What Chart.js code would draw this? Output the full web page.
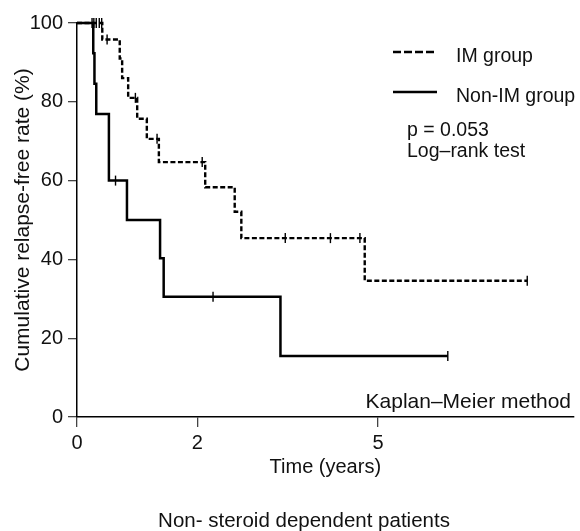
<!DOCTYPE html>
<html lang="en">
<head>
<meta charset="UTF-8">
<title>Relapse-free rate, non-steroid dependent patients</title>
<script src="https://cdn.jsdelivr.net/npm/chart.js"></script>
<style>
  html, body { margin: 0; padding: 0; background: #fff; }
  #wrap { width: 580px; height: 531px; }
</style>
</head>
<body>
<div id="wrap"><canvas id="km" width="580" height="531"></canvas></div>
<script>
// Kaplan-Meier steps: time in years, rate in %
const imTimes = [0, 0.42, 0.71, 0.75, 0.85, 1.00, 1.16, 1.36, 2.13, 2.62, 2.73, 4.78, 7.48];
const imRates = [100, 95.8, 91, 86, 81, 75.7, 70.6, 64.7, 58.3, 52.1, 45.4, 34.6, 34.6];
const imCensorTimes = [0.25, 0.28, 0.32, 0.37, 0.41, 0.50, 0.97, 1.33, 2.08, 3.46, 4.21, 4.70, 7.48];
const imCensorRates = [100, 100, 100, 100, 100, 95.8, 81, 70.6, 64.7, 45.4, 45.4, 45.4, 34.6];

const nonTimes = [0, 0.27, 0.29, 0.32, 0.53, 0.83, 1.38, 1.44, 3.38, 6.16];
const nonRates = [100, 92.3, 84.6, 76.9, 60, 50, 40.3, 30.5, 15.5, 15.5];
const nonCensorTimes = [0.64, 2.26, 6.16];
const nonCensorRates = [60, 30.5, 15.5];

const xTicks = [0, 2, 5];
const yTicks = [0, 20, 40, 60, 80, 100];

const FAMILY = "'Liberation Sans', Arial, sans-serif";
const INK = '#111';

function pts(xs, ys) {
  return xs.map((x, i) => ({ x: x, y: ys[i] }));
}

// legend, test result and captions drawn inside the plot
const notes = {
  id: 'notes',
  afterDraw(chart) {
    const ctx = chart.ctx;
    const ds = chart.data.datasets;
    ctx.save();
    ctx.fillStyle = INK;
    ctx.strokeStyle = '#000';
    ctx.font = '19.5px ' + FAMILY;
    ctx.textBaseline = 'alphabetic';

    const rows = [
      { set: ds[0], y: 52, dash: [8, 3] },
      { set: ds[1], y: 92, dash: [] }
    ];
    rows.forEach(r => {
      ctx.lineWidth = r.set.borderWidth;
      ctx.setLineDash(r.dash);
      ctx.beginPath();
      ctx.moveTo(393, r.y);
      ctx.lineTo(437, r.y);
      ctx.stroke();
      ctx.setLineDash([]);
      ctx.textAlign = 'left';
      ctx.fillText(r.set.label, 456, r.y + 10);
    });

    ctx.fillText('p = 0.053', 407, 136);
    ctx.fillText('Log\u2013rank test', 407, 157);

    ctx.font = '21px ' + FAMILY;
    ctx.textAlign = 'right';
    ctx.fillText('Kaplan\u2013Meier method', 571, 408);

    ctx.font = '20.5px ' + FAMILY;
    ctx.textAlign = 'center';
    ctx.fillText('Non- steroid dependent patients', 304, 527);
    ctx.restore();
  }
};

new Chart(document.getElementById('km'), {
  type: 'line',
  data: {
    datasets: [
      {
        label: 'IM group',
        data: pts(imTimes, imRates),
        stepped: true,
        borderColor: '#000',
        borderWidth: 2.4,
        borderDash: [5, 2.5],
        pointRadius: 0,
        clip: false
      },
      {
        label: 'Non-IM group',
        data: pts(nonTimes, nonRates),
        stepped: true,
        borderColor: '#000',
        borderWidth: 2.5,
        pointRadius: 0,
        clip: false
      },
      {
        label: 'IM censored',
        data: pts(imCensorTimes, imCensorRates),
        showLine: false,
        pointStyle: 'line',
        rotation: 90,
        pointRadius: 5,
        pointBorderWidth: 1.4,
        pointBorderColor: '#000',
        clip: false
      },
      {
        label: 'Non-IM censored',
        data: pts(nonCensorTimes, nonCensorRates),
        showLine: false,
        pointStyle: 'line',
        rotation: 90,
        pointRadius: 5,
        pointBorderWidth: 1.4,
        pointBorderColor: '#000',
        clip: false
      }
    ]
  },
  options: {
    responsive: false,
    animation: false,
    layout: { padding: { top: 23, right: 5, bottom: 48, left: 0 } },
    plugins: {
      legend: { display: false },
      tooltip: { enabled: false }
    },
    scales: {
      x: {
        type: 'linear',
        min: 0,
        max: 8.25,
        afterBuildTicks(scale) { scale.ticks = xTicks.map(v => ({ value: v })); },
        afterFit(scale) { scale.height = 66; },
        ticks: { font: { family: FAMILY, size: 20 }, color: INK, padding: 4, maxRotation: 0 },
        grid: { drawOnChartArea: false, tickLength: 10, color: '#444', lineWidth: 1.3 },
        border: { color: '#000', width: 1.5 },
        title: {
          display: true,
          text: 'Time (years)',
          font: { family: FAMILY, size: 20 },
          color: INK,
          padding: { top: 0, bottom: 4 }
        }
      },
      y: {
        min: 0,
        max: 100,
        afterBuildTicks(scale) { scale.ticks = yTicks.map(v => ({ value: v })); },
        afterFit(scale) { scale.width = 77; },
        ticks: { font: { family: FAMILY, size: 20 }, color: INK, padding: 5 },
        grid: { drawOnChartArea: false, tickLength: 9, color: '#444', lineWidth: 1.3 },
        border: { color: '#000', width: 1.5 },
        title: {
          display: true,
          text: 'Cumulative relapse-free rate (%)',
          font: { family: FAMILY, size: 21 },
          color: INK,
          padding: { top: 11, bottom: 0 }
        }
      }
    }
  },
  plugins: [notes]
});
</script>
</body>
</html>
